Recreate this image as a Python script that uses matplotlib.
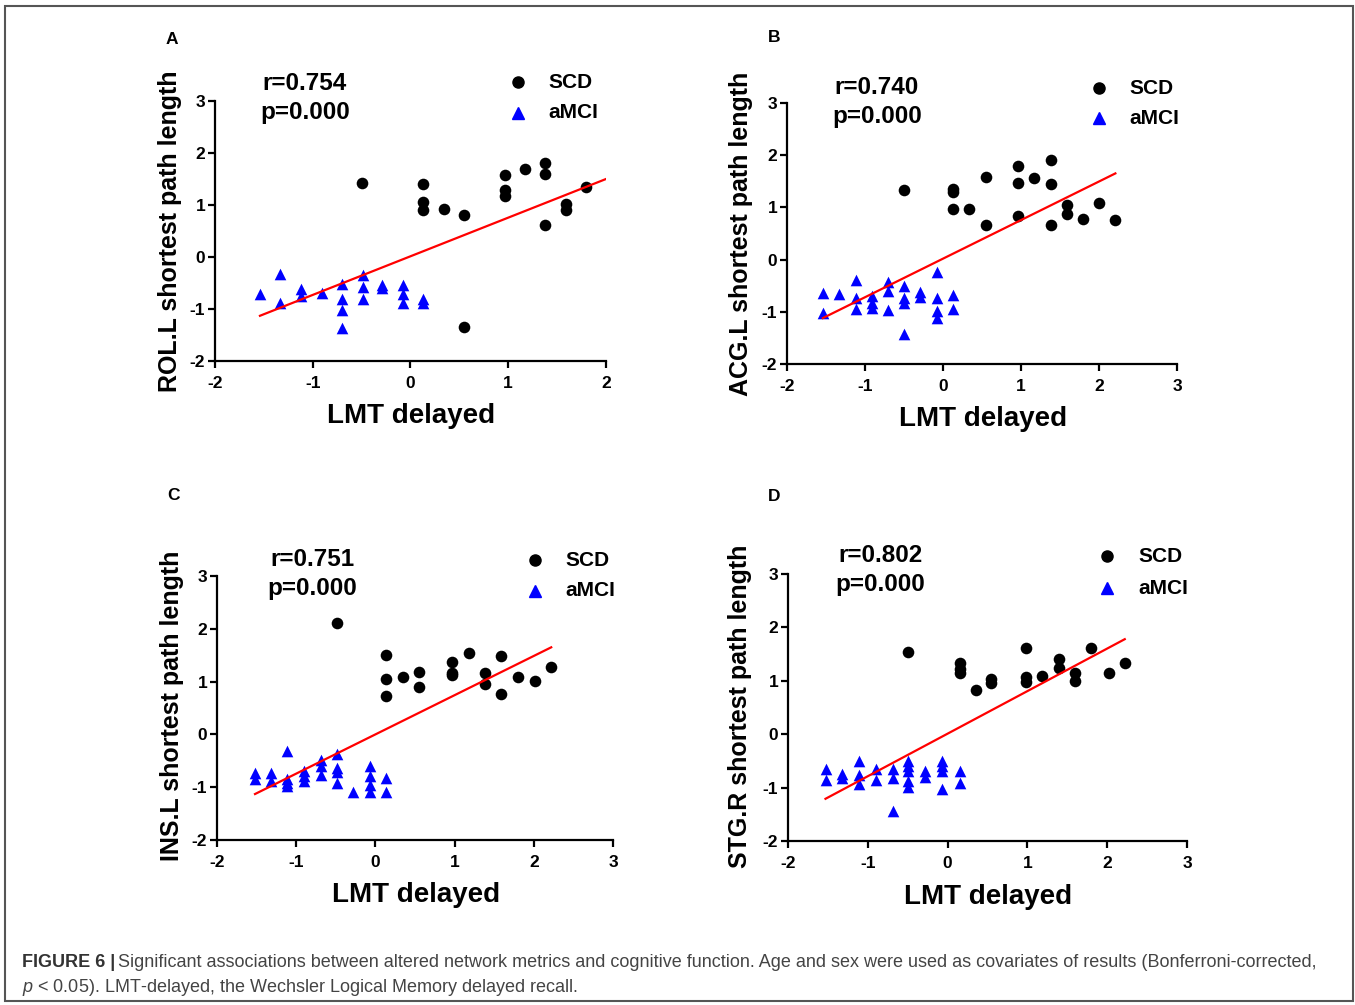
import numpy as np
import matplotlib
matplotlib.use("Agg")
import matplotlib.pyplot as plt
from matplotlib.patches import Rectangle

plt.rcParams['font.family'] = ['Liberation Sans', 'DejaVu Sans']
plt.rcParams['mathtext.fontset'] = 'custom'
plt.rcParams['mathtext.it'] = 'Liberation Sans:italic'
plt.rcParams['mathtext.rm'] = 'Liberation Sans'
plt.rcParams['axes.unicode_minus'] = False

W, H = 1355, 1005

# ---------------- data ----------------
# Panel A: ROL.L
A_scd_x = [-0.50, 0.13, 0.13, 0.13, 0.34, 0.55, 0.55, 0.97, 0.97, 0.97, 1.17, 1.38, 1.38, 1.38, 1.59, 1.59, 1.80]
A_scd_y = [1.42, 1.40, 1.05, 0.90, 0.92, 0.80, -1.34, 1.57, 1.29, 1.18, 1.69, 1.80, 1.60, 0.61, 1.01, 0.91, 1.35]
A_mci_x = [-1.54, -1.33, -1.33, -1.12, -1.12, -0.91, -0.70, -0.70, -0.70, -0.70, -0.49, -0.49, -0.49,
           -0.29, -0.29, -0.08, -0.08, -0.08, 0.13, 0.13]
A_mci_y = [-0.72, -0.32, -0.89, -0.61, -0.75, -0.70, -0.52, -0.80, -1.01, -1.36, -0.34, -0.57, -0.81,
           -0.54, -0.59, -0.54, -0.72, -0.88, -0.80, -0.89]

# Panel B: ACG.L
B_scd_x = [-0.50, 0.13, 0.13, 0.13, 0.33, 0.55, 0.55, 0.96, 0.96, 0.96, 1.17, 1.38, 1.38, 1.38, 1.59, 1.59, 1.79, 2.00, 2.21]
B_scd_y = [1.33, 1.36, 1.29, 0.96, 0.96, 1.58, 0.67, 1.79, 1.46, 0.83, 1.56, 1.90, 1.45, 0.66, 1.04, 0.87, 0.78, 1.08, 0.75]
B_mci_x = [-1.54, -1.54, -1.33, -1.12, -1.12, -1.12, -0.91, -0.91, -0.91, -0.71, -0.71, -0.71,
           -0.50, -0.50, -0.50, -0.50, -0.29, -0.29, -0.08, -0.08, -0.08, -0.08, 0.13, 0.13]
B_mci_y = [-0.64, -1.03, -0.65, -0.40, -0.74, -0.95, -0.69, -0.83, -0.92, -0.42, -0.60, -0.96,
           -0.50, -0.74, -0.84, -1.43, -0.63, -0.72, -0.23, -0.74, -0.98, -1.12, -0.68, -0.95]

# Panel C: INS.L
C_scd_x = [-0.49, 0.14, 0.14, 0.14, 0.35, 0.55, 0.55, 0.97, 0.97, 0.97, 1.18, 1.39, 1.39, 1.59, 1.59, 1.80, 2.01, 2.22]
C_scd_y = [2.11, 1.50, 1.05, 0.72, 1.09, 1.19, 0.89, 1.37, 1.17, 1.12, 1.54, 1.17, 0.95, 1.48, 0.76, 1.08, 1.02, 1.28]
C_mci_x = [-1.52, -1.52, -1.32, -1.32, -1.11, -1.11, -1.11, -1.11, -0.90, -0.90, -0.90, -0.69, -0.69, -0.69,
           -0.49, -0.49, -0.49, -0.49, -0.28, -0.07, -0.07, -0.07, -0.07, 0.14, 0.14]
C_mci_y = [-0.73, -0.84, -0.73, -0.89, -0.32, -0.84, -0.92, -0.98, -0.70, -0.79, -0.89, -0.49, -0.60, -0.76,
           -0.37, -0.63, -0.72, -0.92, -1.10, -0.60, -0.78, -0.95, -1.10, -0.83, -1.10]

# Panel D: STG.R
D_scd_x = [-0.49, 0.15, 0.15, 0.15, 0.35, 0.55, 0.55, 0.98, 0.98, 0.98, 1.18, 1.39, 1.39, 1.60, 1.60, 1.80, 2.02, 2.22]
D_scd_y = [1.54, 1.33, 1.23, 1.14, 0.83, 1.03, 0.95, 1.62, 1.08, 0.98, 1.09, 1.41, 1.24, 1.14, 0.99, 1.62, 1.15, 1.34]
D_mci_x = [-1.53, -1.53, -1.32, -1.32, -1.11, -1.11, -1.11, -0.90, -0.90, -0.69, -0.69, -0.69,
           -0.49, -0.49, -0.49, -0.49, -0.49, -0.28, -0.28, -0.07, -0.07, -0.07, -0.07, 0.15, 0.15]
D_mci_y = [-0.65, -0.85, -0.74, -0.82, -0.51, -0.76, -0.93, -0.66, -0.85, -0.66, -0.82, -1.43,
           -0.51, -0.60, -0.68, -0.88, -0.99, -0.69, -0.80, -0.51, -0.59, -0.69, -1.02, -0.68, -0.91]

# regression lines: slope, intercept, x-start, x-end
fit_slope = [0.743, 0.739, 0.743, 0.797]
fit_intercept = [0.014, 0.018, 0.0, 0.01]
fit_xstart = [-1.54, -1.54, -1.52, -1.53]
fit_xend = [2.0, 2.21, 2.22, 2.22]

panel_letters = ['A', 'B', 'C', 'D']
ylabels = ['ROL.L shortest path length', 'ACG.L shortest path length',
           'INS.L shortest path length', 'STG.R shortest path length']
r_texts = ['r=0.754', 'r=0.740', 'r=0.751', 'r=0.802']
p_texts = ['p=0.000', 'p=0.000', 'p=0.000', 'p=0.000']
xlabel = 'LMT delayed'
series_names = ['SCD', 'aMCI']
x_limits = [(-2, 2), (-2, 3), (-2, 3), (-2, 3)]
x_ticks = [[-2, -1, 0, 1, 2], [-2, -1, 0, 1, 2, 3], [-2, -1, 0, 1, 2, 3], [-2, -1, 0, 1, 2, 3]]
y_ticks = [-2, -1, 0, 1, 2, 3]

scd_x = [A_scd_x, B_scd_x, C_scd_x, D_scd_x]
scd_y = [A_scd_y, B_scd_y, C_scd_y, D_scd_y]
mci_x = [A_mci_x, B_mci_x, C_mci_x, D_mci_x]
mci_y = [A_mci_y, B_mci_y, C_mci_y, D_mci_y]

# ---------------- layout (pixels) ----------------
axes_px = [(215, 101, 606, 361), (787, 103, 1177, 364), (217, 576, 613, 840), (788, 574, 1187, 841)]
letter_px = [(172, 40), (774, 38), (173, 495), (774, 496)]
ylabel_px = [(170, 231), (741, 234), (172, 706), (740, 706)]
xlabel_px = [(411, 416), (983, 419), (416, 895), (988, 897)]
r_px = [(305, 84), (877, 87), (312, 559), (880, 556)]
p_px = [(305, 113), (877, 116), (312, 588), (880, 585)]
leg_px = [(518, 82, 113, 548), (1099, 88, 118, 1129), (535, 560, 591, 565), (1107, 556, 588, 1138)]


def fx(x):
    return x / W


def fy(y):
    return 1 - y / H


fig = plt.figure(figsize=(W / 100, H / 100), dpi=100)
fig.patch.set_facecolor('white')

# outer frame
fig.patches.append(Rectangle((fx(5), fy(1001)), fx(1353) - fx(5), fy(6) - fy(1001),
                             transform=fig.transFigure, fill=False, edgecolor='#555555', lw=1.5))

for i in range(4):
    l, t, r, b = axes_px[i]
    ax = fig.add_axes([fx(l), fy(b), fx(r) - fx(l), fy(t) - fy(b)])
    ax.scatter(mci_x[i], mci_y[i], marker='^', s=70, color='#0000ff', linewidths=0, zorder=3)
    ax.scatter(scd_x[i], scd_y[i], marker='o', s=70, color='black', linewidths=0, zorder=3)
    xs = np.array([fit_xstart[i], fit_xend[i]])
    ax.plot(xs, fit_slope[i] * xs + fit_intercept[i], color='#ff0000', lw=1.6, zorder=4)
    ax.set_xlim(*x_limits[i])
    ax.set_ylim(-2, 3)
    ax.set_xticks(x_ticks[i])
    ax.set_yticks(y_ticks)
    for s in ['top', 'right']:
        ax.spines[s].set_visible(False)
    for s in ['left', 'bottom']:
        ax.spines[s].set_linewidth(1.6)
    ax.tick_params(direction='out', length=5, width=1.6, labelsize=12.5)
    ax.tick_params(axis='x', pad=6)
    ax.tick_params(axis='y', pad=2)
    for lab in ax.get_xticklabels() + ax.get_yticklabels():
        lab.set_fontweight('bold')
    ax.patch.set_alpha(0)

    fig.text(fx(letter_px[i][0]), fy(letter_px[i][1]), panel_letters[i], fontsize=12.5,
             fontweight='bold', ha='center', va='center')
    fig.text(fx(ylabel_px[i][0]), fy(ylabel_px[i][1]), ylabels[i], fontsize=18,
             fontweight='bold', rotation=90, ha='center', va='center')
    fig.text(fx(xlabel_px[i][0]), fy(xlabel_px[i][1]), xlabel, fontsize=20,
             fontweight='bold', ha='center', va='center')
    fig.text(fx(r_px[i][0]), fy(r_px[i][1]), r_texts[i], fontsize=17.5,
             fontweight='bold', ha='center', va='center')
    fig.text(fx(p_px[i][0]), fy(p_px[i][1]), p_texts[i], fontsize=17.5,
             fontweight='bold', ha='center', va='center')
    mx, y1, y2, tx = leg_px[i]
    fig.lines.append(plt.Line2D([fx(mx)], [fy(y1)], marker='o', markersize=8, color='black',
                                linestyle='none', transform=fig.transFigure))
    fig.lines.append(plt.Line2D([fx(mx)], [fy(y2)], marker='^', markersize=8, color='#0000ff',
                                linestyle='none', transform=fig.transFigure))
    fig.text(fx(tx), fy(y1), series_names[0], fontsize=15, fontweight='bold', ha='left', va='center')
    fig.text(fx(tx), fy(y2), series_names[1], fontsize=15, fontweight='bold', ha='left', va='center')

# caption
cap_fs = 13.0
t1 = fig.text(fx(22), fy(962), 'FIGURE 6 |', fontsize=cap_fs, fontweight='bold', color='#333333',
              ha='left', va='center')
fig.canvas.draw()
bb = t1.get_window_extent()
fig.text(bb.x1 / W + 3 / W, fy(962),
         'Significant associations between altered network metrics and cognitive function. '
         'Age and sex were used as covariates of results (Bonferroni-corrected,',
         fontsize=cap_fs, color='#444444', ha='left', va='center')
fig.text(fx(22), fy(987), r'$\it{p}$ < 0.05). LMT-delayed, the Wechsler Logical Memory delayed recall.',
         fontsize=cap_fs, color='#444444', ha='left', va='center')

fig.savefig('out.png', dpi=100, facecolor='white')
